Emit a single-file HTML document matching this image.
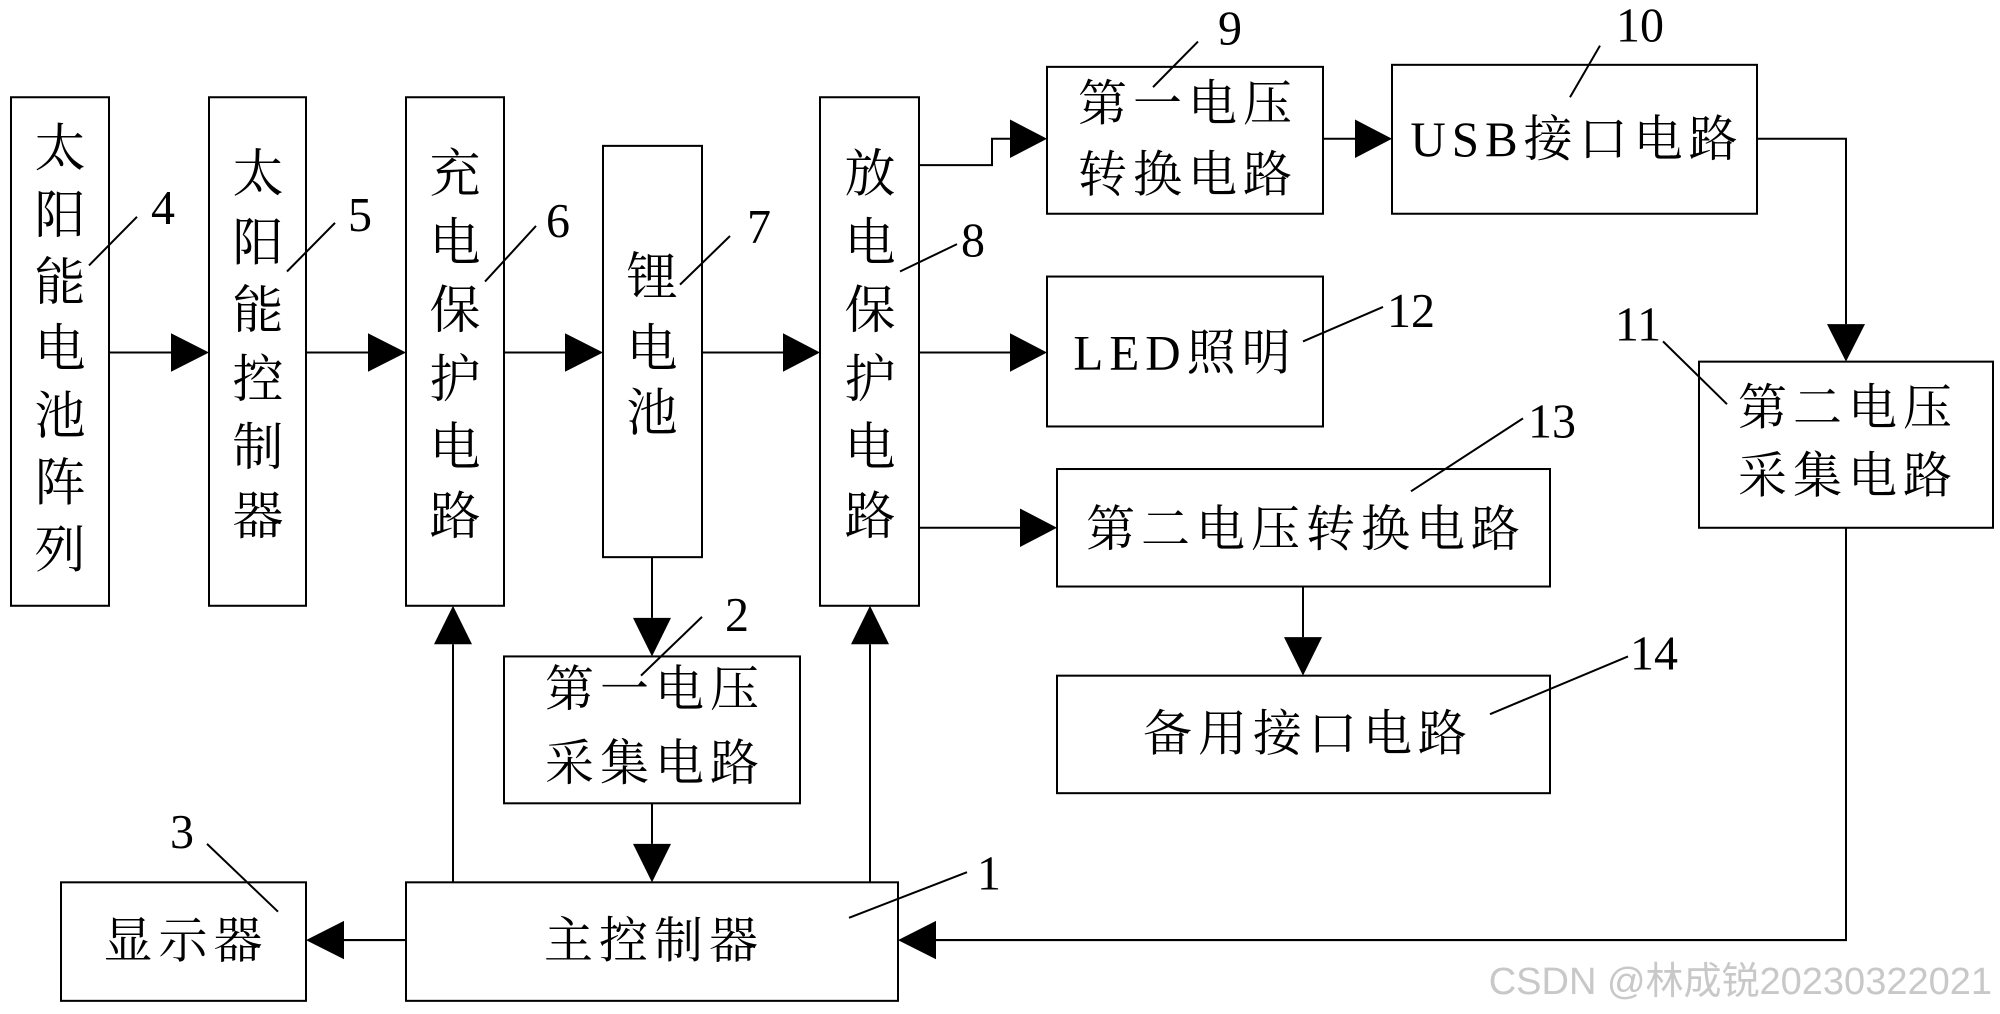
<!DOCTYPE html>
<html><head><meta charset="utf-8"><style>
html,body{margin:0;padding:0;background:#fff;}
svg{display:block;}
.c{font-family:"Liberation Serif","Noto Serif CJK SC",serif;fill:#000;}
.n{font-family:"Liberation Serif",serif;font-size:48px;fill:#000;}
</style></head><body>
<svg width="2000" height="1014" viewBox="0 0 2000 1014" xmlns="http://www.w3.org/2000/svg">
<g transform="scale(1,1.013)">
<g fill="none" stroke="#000" stroke-width="2">
<rect x="11" y="96" width="98" height="502"/>
<rect x="209" y="96" width="97" height="502"/>
<rect x="406" y="96" width="98" height="502"/>
<rect x="603" y="144" width="99" height="406"/>
<rect x="820" y="96" width="99" height="502"/>
<rect x="504" y="648" width="296" height="145"/>
<rect x="406" y="871" width="492" height="117"/>
<rect x="61" y="871" width="245" height="117"/>
<rect x="1047" y="66" width="276" height="145"/>
<rect x="1392" y="64" width="365" height="147"/>
<rect x="1699" y="357" width="294" height="164"/>
<rect x="1047" y="273" width="276" height="148"/>
<rect x="1057" y="463" width="493" height="116"/>
<rect x="1057" y="667" width="493" height="116"/>
<path d="M109 348H171M306 348H368M504 348H565M702 348H783"/>
<path d="M919 163H992V137H1010M1323 137H1355"/>
<path d="M919 348H1010M919 521H1020"/>
<path d="M1757 137H1846V320"/>
<path d="M1846 521V928H936"/>
<path d="M406 928H344"/>
<path d="M453 871V636M870 871V636"/>
<path d="M652 550V610M652 793V833M1303 579V629"/>
<path d="M137 214L89 262M335 220L287 268M536 223L485 278M730 233L680 281M957 241L900 268M702 609L641 667M207 833L278 900M967 861L849 906"/>
<path d="M1198 41L1153 86M1600 45L1570 96M1383 303L1303 337M1663 337L1727 399M1523 413L1411 485M1628 648L1490 705"/>
</g>
<g fill="#000">
<polygon points="209,348 171,329 171,367"/>
<polygon points="406,348 368,329 368,367"/>
<polygon points="603,348 565,329 565,367"/>
<polygon points="820,348 783,329 783,367"/>
<polygon points="1047,137 1010,118 1010,156"/>
<polygon points="1392,137 1355,118 1355,156"/>
<polygon points="1047,348 1010,329 1010,367"/>
<polygon points="1057,521 1020,502 1020,540"/>
<polygon points="1846,357 1827,320 1865,320"/>
<polygon points="898,928 936,909 936,947"/>
<polygon points="306,928 344,909 344,947"/>
<polygon points="453,598 434,636 472,636"/>
<polygon points="870,598 851,636 889,636"/>
<polygon points="652,648 633,610 671,610"/>
<polygon points="652,871 633,833 671,833"/>
<polygon points="1303,667 1284,629 1322,629"/>
</g>
<g class="c" font-size="51" text-anchor="middle">
<text x="60" y="164">太</text><text x="60" y="230">阳</text><text x="60" y="296">能</text><text x="60" y="362">电</text><text x="60" y="428">池</text><text x="60" y="494">阵</text><text x="60" y="560">列</text>
<text x="258" y="189">太</text><text x="258" y="257">阳</text><text x="258" y="324">能</text><text x="258" y="392">控</text><text x="258" y="459">制</text><text x="258" y="527">器</text>
<text x="455" y="189">充</text><text x="455" y="257">电</text><text x="455" y="324">保</text><text x="455" y="392">护</text><text x="455" y="459">电</text><text x="455" y="527">路</text>
<text x="652" y="291">锂</text><text x="652" y="362">电</text><text x="652" y="425">池</text>
<text x="870" y="189">放</text><text x="870" y="257">电</text><text x="870" y="324">保</text><text x="870" y="392">护</text><text x="870" y="459">电</text><text x="870" y="527">路</text>
</g>
<g class="c" font-size="49" text-anchor="middle" letter-spacing="6">
<text x="1188" y="119">第一电压</text>
<text x="1188" y="189">转换电路</text>
<text x="1577" y="154">USB接口电路</text>
<text x="1185" y="365">LED照明</text>
<text x="1306" y="539">第二电压转换电路</text>
<text x="1308" y="741">备用接口电路</text>
<text x="1848" y="419">第二电压</text>
<text x="1848" y="486">采集电路</text>
<text x="655" y="697">第一电压</text>
<text x="655" y="770">采集电路</text>
<text x="654" y="945">主控制器</text>
<text x="186" y="945">显示器</text>
</g>
<g class="n" text-anchor="middle">
<text x="163" y="221">4</text><text x="360" y="228">5</text><text x="558" y="234">6</text><text x="759" y="240">7</text><text x="973" y="253">8</text>
<text x="737" y="623">2</text><text x="182" y="837">3</text><text x="989" y="878">1</text>
<text x="1230" y="44">9</text><text x="1640" y="41">10</text><text x="1411" y="323">12</text><text x="1638" y="336">11</text><text x="1552" y="432">13</text><text x="1654" y="661">14</text>
</g>
</g>
<text x="1992" y="994" text-anchor="end" font-family="Liberation Sans,Noto Sans CJK SC,sans-serif" font-size="38" fill="#c8c8c8">CSDN @林成锐20230322021</text>
</svg>
</body></html>
